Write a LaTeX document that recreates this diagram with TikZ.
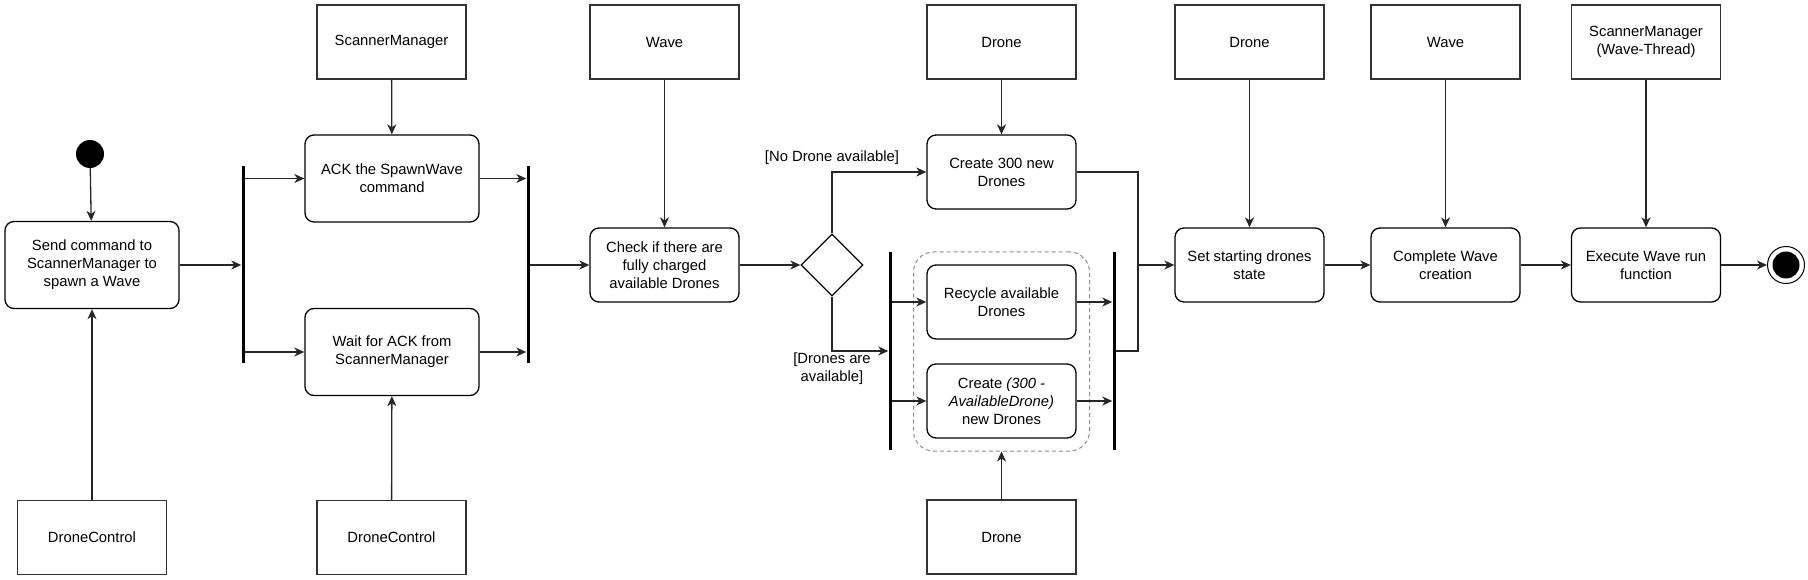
\documentclass[tikz,border=0pt]{standalone}
\usepackage{fontspec}
\setmainfont{Liberation Sans}
\usetikzlibrary{arrows.meta,shapes.geometric,calc}
\begin{document}
\begin{tikzpicture}[x=1pt,y=-1pt,
  every node/.style={font=\fontsize{14.8}{18}\selectfont, align=center, text=black},
  act/.style={draw=black, line width=1.3pt, rounded corners=9pt, minimum width=149pt, minimum height=74pt, inner sep=0pt},
  bigact/.style={act, minimum width=174pt, minimum height=87pt},
  obj/.style={draw=black!80, line width=1.4pt, minimum width=149pt, minimum height=74pt, inner sep=0pt},
  barnode/.style={fill=black, minimum width=3pt, inner sep=0pt, minimum height=197pt},
  conn/.style={draw=black!85, line width=1.3pt},
  arr/.style={conn, -{Stealth[length=10pt,width=9pt,inset=3pt]}},
  grp/.style={draw=black!45, dashed, line width=1pt, rounded corners=20pt, dash pattern=on 4pt off 3pt}
]
\useasboundingbox (0,0) rectangle (1808,580);

% start / end
\node[circle, fill=black, minimum size=28pt, inner sep=0pt] (start) at (90,154) {};
\node[circle, draw=black, line width=1pt, fill=white, minimum size=37pt, inner sep=0pt] (endo) at (1786,265) {};
\node[circle, fill=black, minimum size=27pt, inner sep=0pt] (endi) at (1786,265) {};

% actions
\node[bigact] (send) at (92,265) {Send command to\\ScannerManager to\\spawn a Wave};
\node[bigact] (ack) at (392,178.5) {ACK the SpawnWave\\command};
\node[bigact] (wait) at (392,352) {Wait for ACK from\\ScannerManager};
\node[act] (check) at (664.5,265) {Check if there are\\fully charged\\available Drones};
\node[act] (create300) at (1001.5,172) {Create 300 new\\Drones};
\node[act] (recycle) at (1001.5,302) {Recycle available\\Drones};
\node[act] (createn) at (1001.5,401) {Create \textit{(300 -}\\\textit{AvailableDrone)}\\new Drones};
\node[act] (set) at (1249.5,265) {Set starting drones\\state};
\node[act] (complete) at (1445.5,265) {Complete Wave\\creation};
\node[act] (execute) at (1646,265) {Execute Wave run\\function};

% decision
\node[diamond, draw=black, line width=1.3pt, minimum width=62pt, minimum height=62pt, inner sep=0pt, aspect=1] (dec) at (832,265) {};

% group container
\node[grp, minimum width=176pt, minimum height=199pt, inner sep=0pt] (grpbox) at (1001.5,351.5) {};

% bars
\node[barnode] (bar1) at (243,264.5) {};
\node[barnode] (bar2) at (528,264.5) {};
\node[barnode, minimum height=198pt] (bar3) at (890,351) {};
\node[barnode, minimum height=198pt] (bar4) at (1114,351) {};

% objects
\node[obj] (sm1) at (391.5,42) {ScannerManager};
\node[obj] (wave1) at (664.5,42) {Wave};
\node[obj] (drone1) at (1001.5,42) {Drone};
\node[obj] (drone2) at (1249.5,42) {Drone};
\node[obj] (wave2) at (1445.5,42) {Wave};
\node[obj] (smwt) at (1646,42) {ScannerManager\\(Wave-Thread)};
\node[obj] (dc1) at (92,537.5) {DroneControl};
\node[obj] (dc2) at (391.5,537.5) {DroneControl};
\node[obj] (drone3) at (1001.5,537) {Drone};

% labels
\node (lno) at (832,158) {[No Drone available]};
\node (lyes) at (832,369) {[Drones are\\available]};

\coordinate (mj) at (1138,265);

% flow
\draw[arr] (start) -- (send);
\draw[arr] (send) -- (bar1.west |- send.east);
\draw[arr] (bar1.east |- ack.west) -- (ack.west);
\draw[arr] (bar1.east |- wait.west) -- (wait.west);
\draw[arr] (ack.east) -- (bar2.west |- ack.east);
\draw[arr] (wait.east) -- (bar2.west |- wait.east);
\draw[arr] (bar2.east |- check.west) -- (check.west);
\draw[arr] (check) -- (dec);
\draw[arr] (dec.north) |- (create300.west);
\draw[arr] (dec.south) |- (bar3.west);
\draw[arr] (bar3.east |- recycle.west) -- (recycle.west);
\draw[arr] (bar3.east |- createn.west) -- (createn.west);
\draw[arr] (recycle.east) -- (bar4.west |- recycle.east);
\draw[arr] (createn.east) -- (bar4.west |- createn.east);
\draw[conn] (create300.east) -| (mj) |- (bar4.east);
\draw[arr] (mj) -- (set.west);
\draw[arr] (set) -- (complete);
\draw[arr] (complete) -- (execute);
\draw[arr] (execute) -- (endo);

% object flows
\draw[arr] (sm1) -- (ack);
\draw[arr] (wave1) -- (check);
\draw[arr] (drone1) -- (create300);
\draw[arr] (drone2) -- (set);
\draw[arr] (wave2) -- (complete);
\draw[arr] (smwt) -- (execute);
\draw[arr] (dc1) -- (send);
\draw[arr] (dc2) -- (wait);
\draw[arr] (drone3) -- (grpbox);
\end{tikzpicture}
\end{document}
